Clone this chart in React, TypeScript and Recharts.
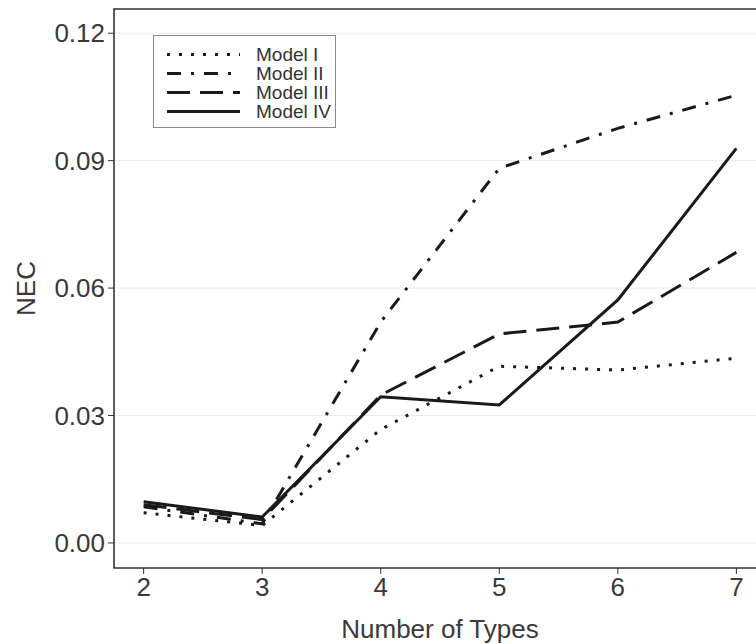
import {
  CartesianGrid,
  Line,
  LineChart,
  ReferenceArea,
  XAxis,
  YAxis,
} from "recharts";

const types = [2, 3, 4, 5, 6, 7];
const modelI = [0.0071, 0.0041, 0.0267, 0.0416, 0.0407, 0.0435];
const modelII = [0.0085, 0.0045, 0.052, 0.0882, 0.0976, 0.1054];
const modelIII = [0.009, 0.0055, 0.0348, 0.0492, 0.052, 0.0684];
const modelIV = [0.0097, 0.0061, 0.0344, 0.0325, 0.0572, 0.0929];

const yTicks = [0, 0.03, 0.06, 0.09, 0.12];
const xTicks = [2, 3, 4, 5, 6, 7];

const X_DOMAIN: [number, number] = [1.75, 7.25];
const Y_DOMAIN: [number, number] = [-0.0059, 0.1257];

const FONT = "'Liberation Sans', Arial, Helvetica, sans-serif";
const INK = "#1a1a1a";
const TEXT = "#3a3a3a";

// name -> dash pattern, same pattern is reused in the legend keys
const SERIES = [
  { key: "m1", name: "Model I", values: modelI, dash: "3 9" },
  { key: "m2", name: "Model II", values: modelII, dash: "14 10 3 10" },
  { key: "m3", name: "Model III", values: modelIII, dash: "23 10" },
  { key: "m4", name: "Model IV", values: modelIV, dash: undefined },
];

const data = types.map((t, i) => {
  const row: Record<string, number> = { types: t };
  SERIES.forEach((s) => {
    row[s.key] = s.values[i];
  });
  return row;
});

function LegendBox() {
  return (
    <div
      style={{
        position: "absolute",
        left: 153,
        top: 35,
        width: 181,
        height: 91,
        border: "1px solid #8a8a8a",
        background: "#fff",
        fontFamily: FONT,
        fontSize: 19,
        color: "#333",
      }}
    >
      {SERIES.map((s, i) => (
        <div
          key={s.key}
          style={{
            position: "absolute",
            left: 0,
            top: 9 + i * 19,
            height: 19,
            display: "flex",
            alignItems: "center",
          }}
        >
          <svg width={102} height={19}>
            <line
              x1={13}
              x2={86}
              y1={9.5}
              y2={9.5}
              stroke={INK}
              strokeWidth={3}
              strokeDasharray={s.dash}
            />
          </svg>
          <span style={{ lineHeight: "19px" }}>{s.name}</span>
        </div>
      ))}
    </div>
  );
}

export default function App() {
  return (
    <div
      style={{
        position: "fixed",
        left: 0,
        top: 0,
        width: 756,
        height: 644,
        overflow: "hidden",
        background: "#fff",
      }}
    >
      <LineChart
        width={792}
        height={644}
        data={data}
        margin={{ top: 9, right: 26, bottom: 0, left: 0 }}
        style={{ fontFamily: FONT }}
      >
        <CartesianGrid
          horizontal
          vertical={false}
          stroke="#ebebeb"
          strokeWidth={1}
        />
        <XAxis
          dataKey="types"
          type="number"
          domain={X_DOMAIN}
          ticks={xTicks}
          allowDataOverflow
          axisLine={false}
          tickLine={{ stroke: "#333" }}
          tickSize={6}
          tickMargin={4}
          height={76}
          tick={{ fill: TEXT, fontSize: 26 }}
          label={{
            value: "Number of Types",
            position: "insideBottom",
            offset: 6,
            fill: TEXT,
            fontSize: 26,
          }}
        />
        <YAxis
          type="number"
          domain={Y_DOMAIN}
          ticks={yTicks}
          allowDataOverflow
          axisLine={false}
          tickLine={{ stroke: "#333" }}
          tickSize={6}
          tickMargin={3}
          width={114}
          tickFormatter={(v: number) => v.toFixed(2)}
          tick={{ fill: TEXT, fontSize: 26 }}
          label={{
            value: "NEC",
            angle: -90,
            position: "insideLeft",
            offset: 26,
            fill: TEXT,
            fontSize: 26,
            style: { textAnchor: "middle" },
          }}
        />
        <ReferenceArea
          x1={X_DOMAIN[0]}
          x2={X_DOMAIN[1]}
          y1={Y_DOMAIN[0]}
          y2={Y_DOMAIN[1]}
          fill="none"
          stroke="#333"
          strokeWidth={1.6}
          ifOverflow="visible"
        />
        {SERIES.map((s) => (
          <Line
            key={s.key}
            dataKey={s.key}
            name={s.name}
            type="linear"
            stroke={INK}
            strokeWidth={3}
            strokeDasharray={s.dash}
            dot={false}
            activeDot={false}
            isAnimationActive={false}
          />
        ))}
      </LineChart>
      <LegendBox />
    </div>
  );
}
